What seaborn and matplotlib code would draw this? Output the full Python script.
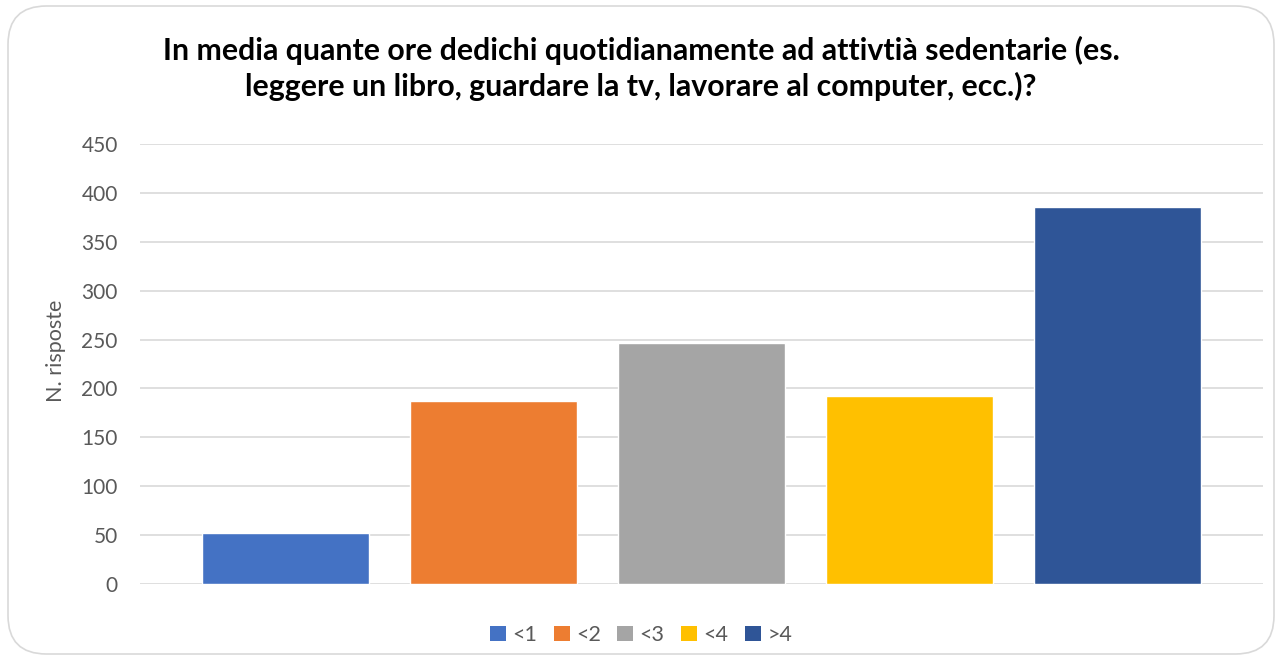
import pandas as pd
import seaborn as sns
import matplotlib.pyplot as plt
from matplotlib.patches import FancyBboxPatch, Patch

categories = ["<1", "<2", "<3", "<4", ">4"]
risposte = [52, 187, 246, 192, 386]
colors = ["#4472C4", "#ED7D31", "#A5A5A5", "#FFC000", "#2F5597"]
y_ticks = [0, 50, 100, 150, 200, 250, 300, 350, 400, 450]
title = ("In media quante ore dedichi quotidianamente ad attivtià sedentarie (es.\n"
         "leggere un libro, guardare la tv, lavorare al computer, ecc.)?")

sns.set_theme(style="white")
plt.rcParams["font.family"] = ["Lato", "DejaVu Sans"]

df = pd.DataFrame({"fascia": categories, "risposte": risposte})

fig = plt.figure(figsize=(12.82, 6.66), dpi=100)
ax = fig.add_axes([140 / 1282, 1 - 584 / 666, 1123 / 1282, 440 / 666])

sns.barplot(df, x="fascia", y="risposte", hue="fascia", palette=colors,
            saturation=1, width=0.8, legend=False, ax=ax, zorder=3)

ax.set_xlim(-0.698, 4.698)
ax.set_ylim(0, 450)
ax.set_yticks(y_ticks)
ax.set_yticklabels([str(t) for t in y_ticks])
ax.tick_params(axis="y", labelsize=15, labelcolor="#595959", length=0, pad=16)
ax.set_xticks([])
ax.set_xlabel("")
ax.set_ylabel("N. risposte", fontsize=15.5, color="#595959")
ax.yaxis.set_label_coords(-0.066, 0.53)
ax.yaxis.grid(True, color="#D9D9D9", linewidth=1.2, zorder=0)
for s in ax.spines.values():
    s.set_visible(False)

fig.suptitle(title, y=1 - 36 / 666, fontsize=21.8, fontweight="bold",
             color="#000000", linespacing=1.3, va="top")

handles = [Patch(facecolor=c, edgecolor="none", label=l) for c, l in zip(colors, categories)]
fig.legend(handles=handles, loc="center", bbox_to_anchor=(0.5, 1 - 635 / 666),
           ncol=5, frameon=False, fontsize=15.5, handlelength=0.75, handleheight=0.75,
           handletextpad=0.3, columnspacing=0.75, labelcolor="#595959")

frame = FancyBboxPatch((8 / 1282, 12 / 666), 1266 / 1282, 648 / 666,
                       boxstyle="round,pad=0,rounding_size=0.03",
                       transform=fig.transFigure, facecolor="none",
                       edgecolor="#D9D9D9", linewidth=1.2, mutation_aspect=1282 / 666)
fig.patches.append(frame)

fig.savefig("out.png", dpi=100)
